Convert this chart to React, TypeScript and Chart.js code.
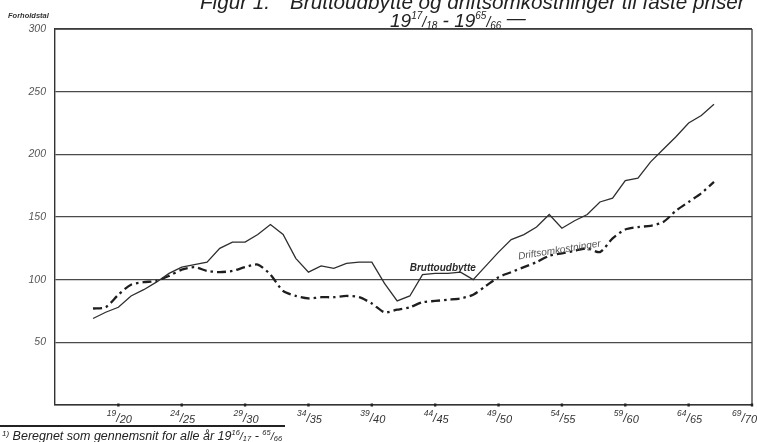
import React, { useEffect, useRef } from "react";
import { Chart, registerables } from "chart.js";

Chart.register(...registerables);

const FONT = "'Liberation Sans', Arial, Helvetica, sans-serif";

// Fiscal years (start year of 19xx/yy)
const years = [
  1917, 1918, 1919, 1920, 1921, 1922, 1923, 1924, 1925, 1926,
  1927, 1928, 1929, 1930, 1931, 1932, 1933, 1934, 1935, 1936,
  1937, 1938, 1939, 1940, 1941, 1942, 1943, 1944, 1945, 1946,
  1947, 1948, 1949, 1950, 1951, 1952, 1953, 1954, 1955, 1956,
  1957, 1958, 1959, 1960, 1961, 1962, 1963, 1964, 1965, 1966,
];

const bruttoudbytte = [
  69, 74, 78, 87, 92, 98, 105, 110, 112, 114,
  125, 130, 130, 136, 144, 136, 117, 106, 111, 109,
  113, 114, 114, 97, 83, 87, 104, 105, 105, 106,
  100, 111, 122, 132, 136, 142, 152, 141, 147, 152,
  162, 165, 179, 181, 194, 204, 214, 225, 231, 240,
];

const driftsomkostninger = [
  77, 78, 88, 96, 98, 99, 103, 108, 110, 107,
  106, 107, 110, 112, 104, 91, 87, 85, 86, 86,
  87, 86, 81, 74, 76, 78, 82, 83, 84, 85,
  88, 95, 102, 106, 110, 114, 119, 121, 123, 125,
  122, 133, 140, 142, 143, 146, 155, 162, 169, 178,
];

const xTickYears = [1919, 1924, 1929, 1934, 1939, 1944, 1949, 1954, 1959, 1964, 1969];
const xTickLabels = ["19/20", "24/25", "29/30", "34/35", "39/40", "44/45", "49/50", "54/55", "59/60", "64/65", "69/70"];
const yTickValues = [0, 50, 100, 150, 200, 250, 300];
const yTickLabels = ["", "50", "100", "150", "200", "250", "300"];

const seriesNames = ["Bruttoudbytte", "Driftsomkostninger"];
const titleText = "Bruttoudbytte og driftsomkostninger til faste priser";
const titlePrefix = "Figur 1.";
const yAxisTitle = "Forholdstal";
const footnoteText = " Beregnet som gennemsnit for alle år 19";

type Piece = { t: string; size: number; dy: number };

function drawPieces(ctx: CanvasRenderingContext2D, pieces: Piece[], x: number, base: number, align: "left" | "center" | "right", weight = "") {
  let total = 0;
  const widths = pieces.map((p) => {
    ctx.font = `italic ${weight} ${p.size}px ${FONT}`;
    const w = ctx.measureText(p.t).width;
    total += w;
    return w;
  });
  let cx = align === "left" ? x : align === "center" ? x - total / 2 : x - total;
  ctx.textAlign = "left";
  ctx.textBaseline = "alphabetic";
  pieces.forEach((p, i) => {
    ctx.font = `italic ${weight} ${p.size}px ${FONT}`;
    ctx.fillText(p.t, cx, base + p.dy);
    cx += widths[i];
  });
  return total;
}

function fracPieces(num: string, den: string, sNum: number, sSlash: number, sDen: number, up: number, down: number): Piece[] {
  return [
    { t: num, size: sNum, dy: -up },
    { t: "/", size: sSlash, dy: 0 },
    { t: den, size: sDen, dy: down },
  ];
}

const overlayPlugin = {
  id: "overlay",
  afterDraw(chart: any) {
    const { ctx, chartArea: a, scales } = chart;
    const xs = scales.x;
    const ys = scales.y;
    ctx.save();

    // frame: right and top
    ctx.strokeStyle = "#3a3a3a";
    ctx.lineWidth = 1.3;
    ctx.beginPath();
    ctx.moveTo(a.right, a.top);
    ctx.lineTo(a.right, a.bottom);
    ctx.moveTo(a.left, a.top);
    ctx.lineTo(a.right, a.top);
    ctx.stroke();

    // x tick marks and labels
    xTickYears.forEach((v, i) => {
      const px = xs.getPixelForValue(v);
      ctx.fillStyle = "#222";
      ctx.fillRect(px - 1.2, a.bottom - 1.5, 2.4, 3);
      const [n, d] = xTickLabels[i].split("/");
      const pieces = fracPieces(n, d, 8.5, 12, 11, 6, 1);
      let total = 0;
      pieces.forEach((p) => {
        ctx.font = `italic ${p.size}px ${FONT}`;
        total += ctx.measureText(p.t).width;
      });
      let cx = px + 1;
      if (cx + total / 2 > 757) cx = 757 - total / 2;
      ctx.fillStyle = "#333";
      drawPieces(ctx, pieces, cx, a.bottom + 17, "center");
    });

    // y labels
    ctx.fillStyle = "#555";
    ctx.font = `italic 10.5px ${FONT}`;
    ctx.textAlign = "right";
    ctx.textBaseline = "middle";
    yTickValues.forEach((v, i) => {
      if (!yTickLabels[i]) return;
      ctx.fillText(yTickLabels[i], a.left - 9, ys.getPixelForValue(v));
    });

    // axis title
    ctx.fillStyle = "#333";
    ctx.font = `italic bold 7.5px ${FONT}`;
    ctx.textAlign = "left";
    ctx.textBaseline = "alphabetic";
    ctx.fillText(yAxisTitle, 8, 18);

    // series annotations
    ctx.fillStyle = "#2a2a2a";
    ctx.font = `italic bold 10px ${FONT}`;
    ctx.textAlign = "center";
    ctx.textBaseline = "middle";
    ctx.fillText(seriesNames[0], xs.getPixelForValue(1944.6), ys.getPixelForValue(109));

    ctx.save();
    ctx.translate(xs.getPixelForValue(1953.8), ys.getPixelForValue(123.5));
    ctx.rotate((-9 * Math.PI) / 180);
    ctx.fillStyle = "#555";
    ctx.font = `italic 10px ${FONT}`;
    ctx.fillText(seriesNames[1], 0, 0);
    ctx.restore();

    // title line 1 (partially cut off at top)
    ctx.fillStyle = "#222";
    ctx.textAlign = "left";
    ctx.textBaseline = "alphabetic";
    ctx.font = `italic 20px ${FONT}`;
    const w20 = ctx.measureText(titleText).width;
    const ts = (20 * 455) / w20;
    ctx.font = `italic ${ts}px ${FONT}`;
    ctx.fillText(titleText, 290, 9);
    ctx.fillText(titlePrefix, 200, 9);

    // title line 2
    const t2: Piece[] = [
      { t: "19", size: 19, dy: 0 },
      ...fracPieces("17", "18", 10, 14, 10, 8, 2),
      { t: " - 19", size: 19, dy: 0 },
      ...fracPieces("65", "66", 10, 14, 10, 8, 2),
      { t: " —", size: 19, dy: -3 },
    ];
    drawPieces(ctx, t2, 390, 27, "left");

    // footnote rule
    ctx.strokeStyle = "#222";
    ctx.lineWidth = 2;
    ctx.beginPath();
    ctx.moveTo(0, 426);
    ctx.lineTo(285, 426);
    ctx.stroke();

    ctx.fillStyle = "#222";
    const fn: Piece[] = [
      { t: "1)", size: 8, dy: -4 },
      { t: footnoteText, size: 12.5, dy: 0 },
      ...fracPieces("16", "17", 7.5, 11, 7.5, 5, 1),
      { t: " - ", size: 12.5, dy: 0 },
      ...fracPieces("65", "66", 7.5, 11, 7.5, 5, 1),
    ];
    drawPieces(ctx, fn, 2, 440, "left");

    ctx.restore();
  },
};

export default function App() {
  const ref = useRef<HTMLCanvasElement | null>(null);

  useEffect(() => {
    document.body.style.margin = "0";
    if (!ref.current) return;
    const chart = new Chart(ref.current, {
      type: "line",
      data: {
        datasets: [
          {
            label: seriesNames[0],
            data: years.map((yr, i) => ({ x: yr, y: bruttoudbytte[i] })),
            borderColor: "#2e2e2e",
            borderWidth: 1.3,
            pointRadius: 0,
            tension: 0,
            fill: false,
          },
          {
            label: seriesNames[1],
            data: years.map((yr, i) => ({ x: yr, y: driftsomkostninger[i] })),
            borderColor: "#1e1e1e",
            borderWidth: 2.3,
            borderDash: [9, 4, 2.5, 4],
            pointRadius: 0,
            tension: 0.25,
            fill: false,
          },
        ],
      },
      options: {
        animation: false,
        responsive: false,
        devicePixelRatio: 1,
        layout: { padding: { left: 55, right: 5, top: 29, bottom: 37 } },
        plugins: { legend: { display: false }, tooltip: { enabled: false } },
        scales: {
          x: {
            type: "linear",
            min: 1914,
            max: 1969,
            afterBuildTicks: (s: any) => {
              s.ticks = xTickYears.map((v) => ({ value: v }));
            },
            ticks: { display: false },
            grid: { display: false, drawTicks: false, tickLength: 0 },
            border: { display: true, color: "#333", width: 1.4 },
          },
          y: {
            type: "linear",
            min: 0,
            max: 300,
            afterBuildTicks: (s: any) => {
              s.ticks = yTickValues.map((v) => ({ value: v }));
            },
            ticks: { display: false },
            grid: { color: "#4a4a4a", lineWidth: 1.2, drawTicks: false, tickLength: 0 },
            border: { display: true, color: "#333", width: 1.4 },
          },
        },
      },
      plugins: [overlayPlugin],
    });
    return () => chart.destroy();
  }, []);

  return (
    <div style={{ width: 757, height: 442, background: "#fff" }}>
      <canvas ref={ref} width={757} height={442} style={{ display: "block" }} />
    </div>
  );
}
